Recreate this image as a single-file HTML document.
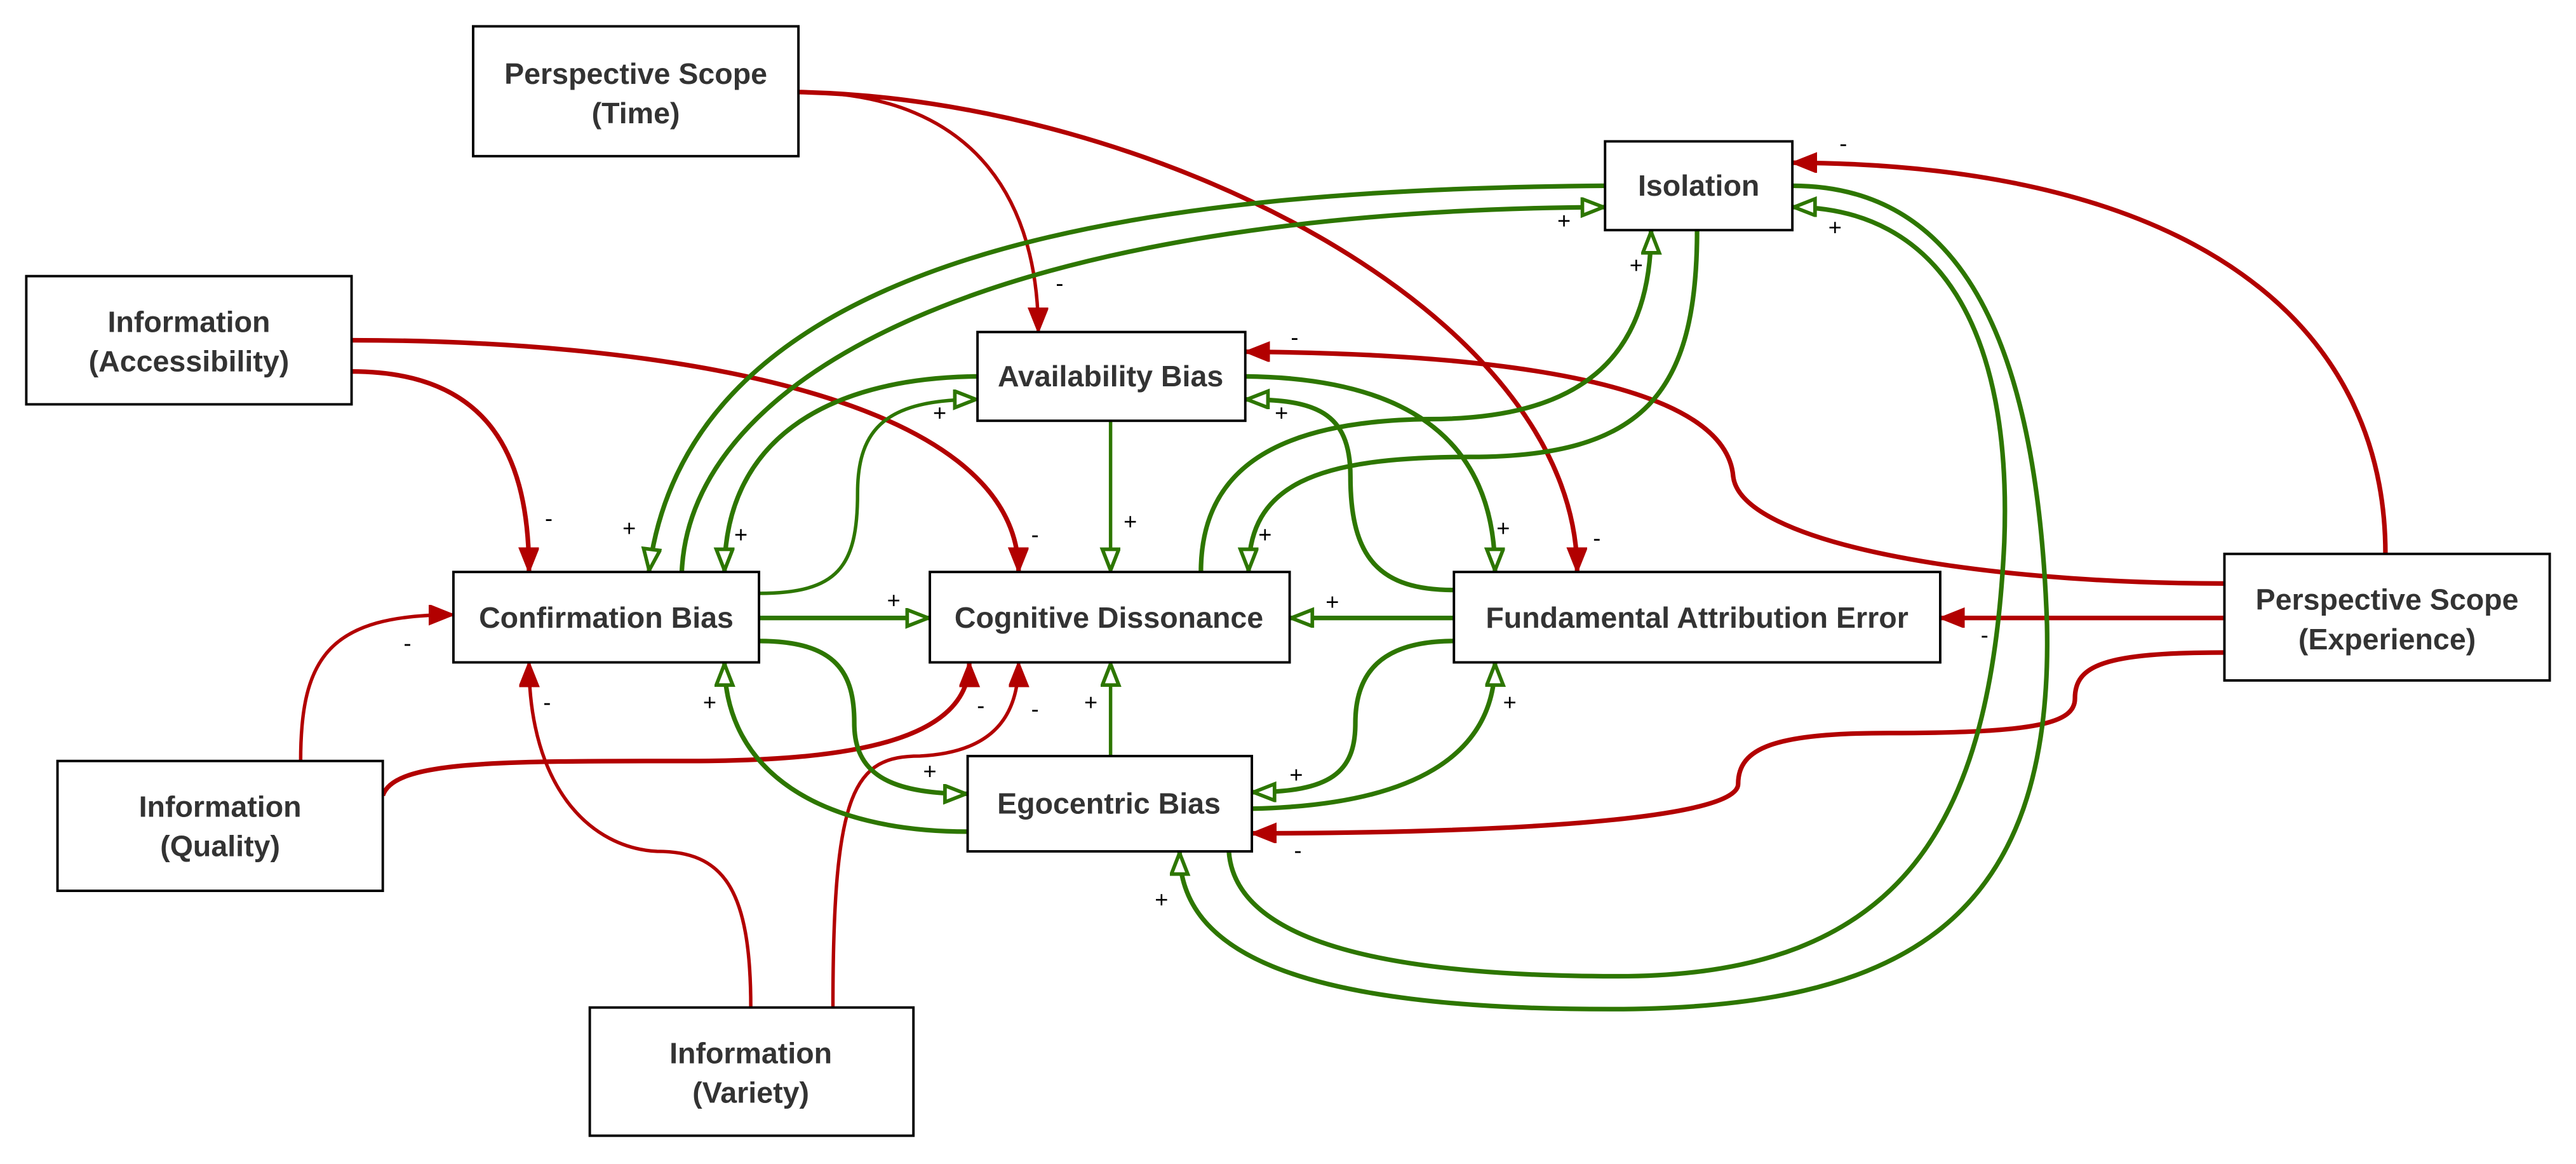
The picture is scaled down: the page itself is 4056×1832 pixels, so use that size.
<!DOCTYPE html>
<html><head><meta charset="utf-8"><style>
html,body{margin:0;padding:0;background:#fff;}
svg{display:block;}
.n{fill:#fff;stroke:#000;stroke-width:1.5;}
.t{font-family:"Liberation Sans",sans-serif;font-weight:bold;font-size:18px;fill:#333;text-anchor:middle;}
.l{font-family:"Liberation Sans",sans-serif;font-size:14px;fill:#000;text-anchor:middle;}
.r{fill:none;stroke:#B20000;stroke-width:2.8;marker-end:url(#ra);}
.g{fill:none;stroke:#2D7600;stroke-width:2.8;marker-end:url(#ga);}
.th{stroke-width:2.1;}
</style></head><body>
<svg width="4056" height="1832" viewBox="0 0 1568 708.2" xmlns="http://www.w3.org/2000/svg">
<defs>
<marker id="ra" markerUnits="userSpaceOnUse" markerWidth="18" markerHeight="14" refX="15" refY="6" orient="auto" viewBox="0 0 18 14">
<polygon points="0,0 15,6 0,12" fill="#B20000" stroke="#B20000" stroke-width="1"/></marker>
<marker id="ga" markerUnits="userSpaceOnUse" markerWidth="18" markerHeight="14" refX="15" refY="6" orient="auto" viewBox="0 0 18 14">
<polygon points="1.2,1 14,6 1.2,11" fill="#fff" stroke="#2D7600" stroke-width="2.2"/></marker>
</defs>

<!-- red edges -->
<path class="r th" d="M486,56 C600,56 632,130 632,202"/>
<path class="r" d="M486,56 C700,60 960,190 960,348"/>
<path class="r" d="M214,226 C300,226 322,280 322,348"/>
<path class="r" d="M214,207 C400,207 620,240 620,348"/>
<path class="r th" d="M183,463 C183,400 200,374 276,374"/>
<path class="r" d="M233,484 C240,463 300,463 420,463 C520,463 590,450 590,403"/>
<path class="r th" d="M457,613 C457,540 440,518 400,518 C360,516 322,480 322,403"/>
<path class="r th" d="M507,613 C507,480 520,460 560,460 C600,458 620,440 620,403"/>
<path class="r" d="M1354,355 C1200,355 1060,330 1055,290 C1050,230 900,215 758,214"/>
<path class="r" d="M1354,376 L1181,376"/>
<path class="r" d="M1354,397 C1280,397 1263,405 1263,425 C1263,440 1240,446 1150,446 C1080,446 1058,455 1058,477 C1058,500 900,507 762,507"/>
<path class="r" d="M1452,337 C1452,200 1340,100 1091,99"/>

<!-- green edges -->
<path class="g" d="M977,113 C700,115 420,150 395,348"/>
<path class="g" d="M415,348 C420,230 600,128 977,126"/>
<path class="g" d="M595,229 C500,230 441,270 441,348"/>
<path class="g th" d="M462,361 C510,361 522,345 522,300 C522,260 540,243 595,243"/>
<path class="g th" d="M676,256 L676,348"/>
<path class="g" d="M731,348 C731,290 770,256 870,255 C960,255 1005,220 1005,140"/>
<path class="g" d="M1033,140 C1033,240 1000,278 895,278 C800,278 760,295 760,348"/>
<path class="g" d="M758,229 C860,230 910,270 910,348"/>
<path class="g" d="M885,359 C840,359 822,340 822,290 C822,250 800,243 758,243"/>
<path class="g" d="M462,376 L566,376"/>
<path class="g" d="M885,376 L785,376"/>
<path class="g" d="M462,390 C510,390 520,410 520,440 C520,470 540,483 589,483"/>
<path class="g" d="M589,506 C500,506 441,470 441,403"/>
<path class="g th" d="M676,460 L676,403"/>
<path class="g" d="M885,390 C840,390 825,410 825,440 C825,470 810,482 762,482"/>
<path class="g" d="M762,492 C860,490 910,460 910,403"/>
<path class="g" d="M748,518 C752,575 850,594 985,594 C1160,594 1212,500 1220,330 C1225,200 1180,126 1091,126"/>
<path class="g" d="M1091,113 C1190,113 1240,200 1246,380 C1250,560 1160,614 980,614 C790,614 718,580 718,518"/>

<!-- nodes -->
<rect class="n" x="288" y="16" width="198" height="79"/>
<text class="t" x="387" y="51">Perspective Scope</text><text class="t" x="387" y="75">(Time)</text>
<rect class="n" x="16" y="168" width="198" height="78"/>
<text class="t" x="115" y="202">Information</text><text class="t" x="115" y="226">(Accessibility)</text>
<rect class="n" x="977" y="86" width="114" height="54"/>
<text class="t" x="1034" y="119">Isolation</text>
<rect class="n" x="595" y="202" width="163" height="54"/>
<text class="t" x="676" y="235">Availability Bias</text>
<rect class="n" x="276" y="348" width="186" height="55"/>
<text class="t" x="369" y="382">Confirmation Bias</text>
<rect class="n" x="566" y="348" width="219" height="55"/>
<text class="t" x="675" y="382">Cognitive Dissonance</text>
<rect class="n" x="885" y="348" width="296" height="55"/>
<text class="t" x="1033" y="382">Fundamental Attribution Error</text>
<rect class="n" x="1354" y="337" width="198" height="77"/>
<text class="t" x="1453" y="371">Perspective Scope</text><text class="t" x="1453" y="395">(Experience)</text>
<rect class="n" x="589" y="460" width="173" height="58"/>
<text class="t" x="675" y="495">Egocentric Bias</text>
<rect class="n" x="35" y="463" width="198" height="79"/>
<text class="t" x="134" y="497">Information</text><text class="t" x="134" y="521">(Quality)</text>
<rect class="n" x="359" y="613" width="197" height="78"/>
<text class="t" x="457" y="647">Information</text><text class="t" x="457" y="671">(Variety)</text>

<!-- labels -->
<g class="l">
<text x="645" y="177">-</text><text x="972" y="332">-</text><text x="334" y="320">-</text><text x="630" y="330">-</text>
<text x="248" y="396">-</text><text x="597" y="434">-</text><text x="333" y="432">-</text><text x="630" y="436">-</text>
<text x="788" y="210">-</text><text x="1208" y="391">-</text><text x="790" y="522">-</text><text x="1122" y="92">-</text>
<text x="383" y="326">+</text><text x="952" y="139">+</text><text x="451" y="330">+</text><text x="572" y="256">+</text>
<text x="688" y="322">+</text><text x="996" y="166">+</text><text x="770" y="330">+</text><text x="915" y="326">+</text>
<text x="780" y="256">+</text><text x="544" y="370">+</text><text x="811" y="371">+</text><text x="566" y="474">+</text>
<text x="432" y="432">+</text><text x="664" y="432">+</text><text x="789" y="476">+</text><text x="919" y="432">+</text>
<text x="1117" y="143">+</text><text x="707" y="552">+</text>
</g>
</svg>
</body></html>
